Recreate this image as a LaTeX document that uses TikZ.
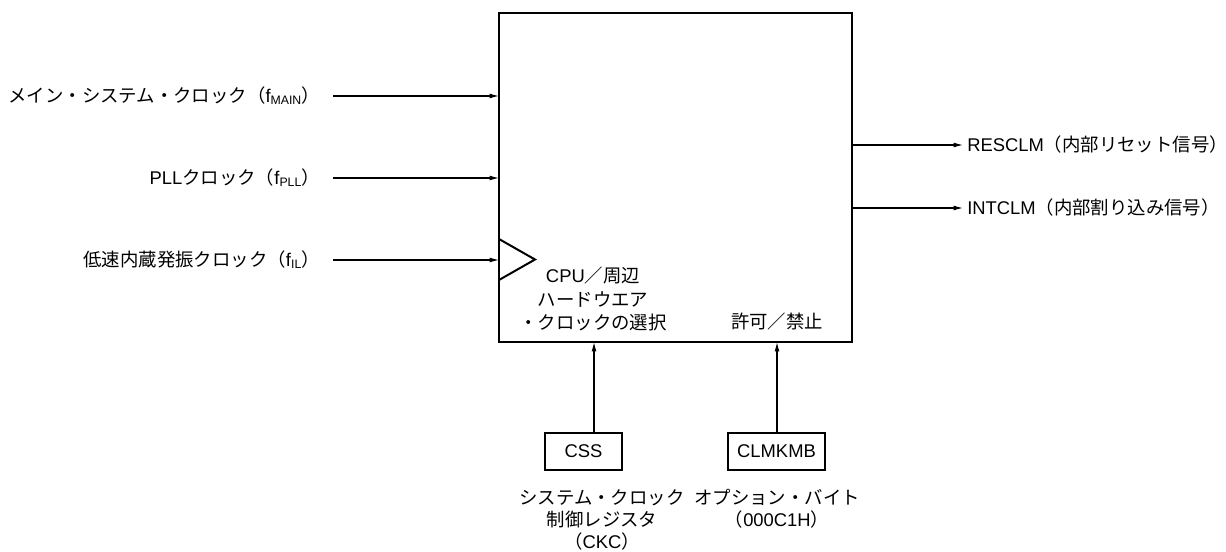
\documentclass[tikz,border=0pt]{standalone}
\usepackage{fontspec}
\setmainfont{Liberation Sans}
\newfontfamily\jp{Noto Sans CJK JP}
\usetikzlibrary{arrows.meta}
\newcommand\lowsc[1]{\raisebox{-0.2ex}{\fontsize{9.2pt}{9.2pt}\selectfont #1}}
\begin{document}
\begin{tikzpicture}[x=0.75pt,y=-0.75pt,
  lbl/.style={inner sep=0pt,font=\fontsize{13.8pt}{16.5pt}\selectfont},
  sig/.style={line width=0.8pt,-{Latex[length=7pt,width=3.6pt]}},
  regbox/.style={draw,line width=1.5pt,inner sep=0pt,font=\fontsize{13.8pt}{16.5pt}\selectfont}]
\useasboundingbox (0,0) rectangle (1226,552);
% main block
\draw[line width=2.2pt] (499,13) rectangle (852,342);
% input triangle
\draw[line width=1.5pt] (499,239) -- (535,259.5) -- (499,280);
% inputs
\node[lbl,anchor=east] (inA) at (320,96) {{\jp メイン・システム・クロック（}f\lowsc{MAIN}{\jp ）}};
\node[lbl,anchor=east] (inB) at (320,178) {PLL{\jp クロック（}f\lowsc{PLL}{\jp ）}};
\node[lbl,anchor=east] (inC) at (320,260) {{\jp 低速内蔵発振クロック（}f\lowsc{IL}{\jp ）}};
\coordinate (sA) at (333,96);
\coordinate (sB) at (333,178);
\coordinate (sC) at (333,260);
\coordinate (eA) at (499,96);
\coordinate (eB) at (499,178);
\coordinate (eC) at (499,260);
\draw[sig] (sA) -- (eA);
\draw[sig] (sB) -- (eB);
\draw[sig] (sC) -- (eC);
% outputs
\coordinate (oA) at (852,145);
\coordinate (oB) at (852,208);
\coordinate (tA) at (963,145);
\coordinate (tB) at (963,208);
\node[lbl,anchor=west] (outA) at (967,145) {RESCLM{\jp （内部リセット信号）}};
\node[lbl,anchor=west] (outB) at (967,208) {INTCLM{\jp （内部割り込み信号）}};
\draw[sig] (oA) -- (tA);
\draw[sig] (oB) -- (tB);
% inner texts
\node[lbl,align=center] (sel) at (593,299) {CPU{\jp ／周辺}\\[0.8pt]{\jp ハードウエア}\\[0.8pt]{\jp ・クロックの選択}};
\node[lbl] (ena) at (777,322) {{\jp 許可／禁止}};
% registers
\node[regbox,minimum width=57.75pt,minimum height=27.75pt] (css) at (583.5,451.5) {CSS};
\node[regbox,minimum width=72.75pt,minimum height=27.75pt] (clm) at (776.5,451.5) {CLMKMB};
\coordinate (cssT) at (594,433);
\coordinate (clmT) at (777,433);
\coordinate (blkA) at (594,342);
\coordinate (blkB) at (777,342);
\draw[sig] (cssT) -- (blkA);
\draw[sig] (clmT) -- (blkB);
% labels below
\node[lbl,align=center] (cssl) at (602,520) {{\jp システム・クロック}\\{\jp 制御レジスタ}\\{\jp （}CKC{\jp ）}};
\node[lbl,align=center] (clml) at (777,509) {{\jp オプション・バイト}\\{\jp （}000C1H{\jp ）}};
\end{tikzpicture}
\end{document}
